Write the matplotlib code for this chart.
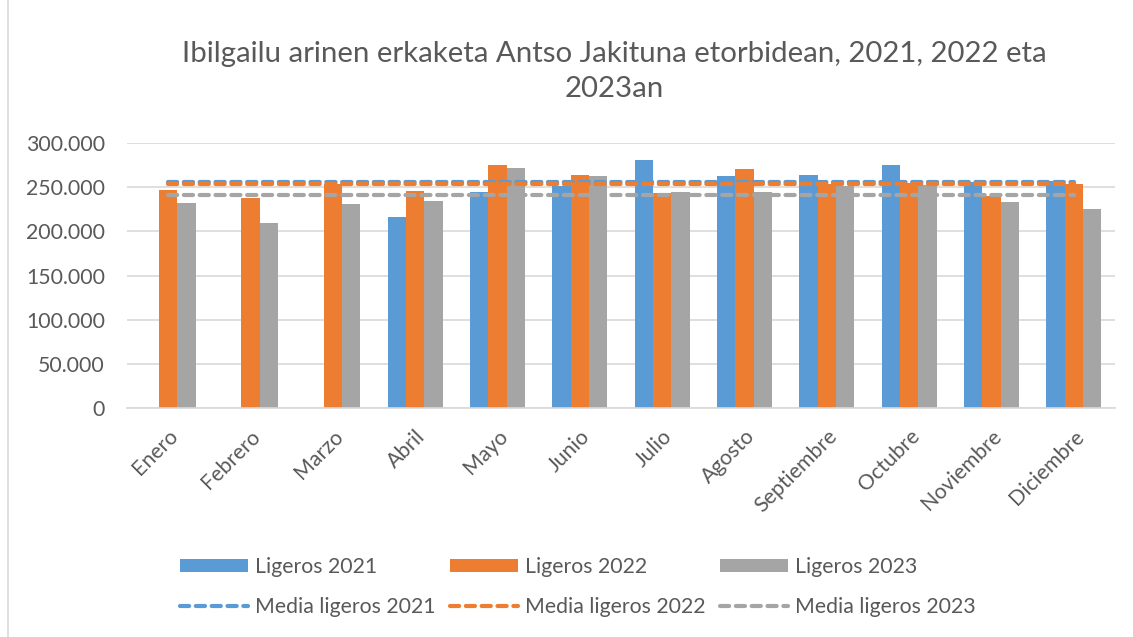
import numpy as np
import matplotlib.pyplot as plt
from matplotlib.patches import Rectangle
from matplotlib.ticker import FuncFormatter

plt.rcParams['font.family'] = ['Lato', 'DejaVu Sans']

# Months and monthly light-vehicle counts
months = ['Enero', 'Febrero', 'Marzo', 'Abril', 'Mayo', 'Junio', 'Julio',
          'Agosto', 'Septiembre', 'Octubre', 'Noviembre', 'Diciembre']
ligeros_2021 = [np.nan, np.nan, np.nan, 215700, 244000, 250800, 280300,
                262600, 263700, 274600, 256100, 257300]
ligeros_2022 = [246300, 237200, 253900, 245200, 275000, 264100, 243300,
                270500, 253100, 254600, 240300, 253900]
ligeros_2023 = [232300, 210000, 230900, 234600, 272000, 262200, 244800,
                244000, 251600, 252400, 232700, 225500]
years = ['2021', '2022', '2023']
colors = ['#5B9BD5', '#ED7D31', '#A5A5A5']
text_col = '#595959'
grid_col = '#D9D9D9'

fig = plt.figure(figsize=(11.33, 6.37), dpi=100)
ax = fig.add_axes([0.1121, 0.3595, 0.872, 0.416])

# Light grey chart-area border (only top and left visible in the crop)
fig.patches.append(Rectangle((8 / 1133, -0.2), 1.2, 1.2 + 1 - 12.5 / 637,
                             transform=fig.transFigure, fill=False,
                             edgecolor=grid_col, linewidth=1.2))

x = np.arange(len(months))
w = 0.223
series = [ligeros_2021, ligeros_2022, ligeros_2023]
bars, lines = [], []
for i, (vals, yr, c) in enumerate(zip(series, years, colors)):
    b = ax.bar(x + (i - 1) * w, vals, width=w, color=c, zorder=2,
               label='Ligeros ' + yr)
    bars.append(b)

# Average lines drawn across the categories
for vals, yr, c in zip(series, years, colors):
    mean = np.nanmean(vals)
    l, = ax.plot(x, [mean] * len(x), color=c, linewidth=3.0,
                 linestyle=(0, (2.2, 1.6)), dash_capstyle='round', zorder=3,
                 label='Media ligeros ' + yr)
    lines.append(l)

ax.set_xlim(-0.5, len(months) - 0.5)
ax.set_ylim(0, 300000)
ax.set_yticks(np.arange(0, 300001, 50000))
ax.yaxis.set_major_formatter(FuncFormatter(lambda v, p: f'{int(v):,}'.replace(',', '.')))
ax.grid(axis='y', color=grid_col, linewidth=1.2, zorder=0)
ax.set_axisbelow(True)
for s in ['top', 'right', 'left']:
    ax.spines[s].set_visible(False)
ax.spines['bottom'].set_color(grid_col)
ax.spines['bottom'].set_linewidth(1.2)

ax.set_xticks(x)
ax.set_xticklabels(months, rotation=45, ha='right', rotation_mode='anchor')
ax.tick_params(axis='both', length=0, colors=text_col, labelsize=15.3)
ax.tick_params(axis='x', pad=13)
ax.tick_params(axis='y', pad=16)

fig.text(0.5424, 0.888, 'Ibilgailu arinen erkaketa Antso Jakituna etorbidean, 2021, 2022 eta\n2023an',
         ha='center', va='center', fontsize=21.2, color=text_col, linespacing=1.42)

handles = [bars[0], lines[0], bars[1], lines[1], bars[2], lines[2]]
labels = [h.get_label() for h in handles]
leg = fig.legend(handles, labels, ncol=3, loc='center', bbox_to_anchor=(0.510, 0.0785),
                 frameon=False, fontsize=15.3, handlelength=3.2, handleheight=0.62,
                 handletextpad=0.33, columnspacing=0.7, labelspacing=0.95)
for t in leg.get_texts():
    t.set_color(text_col)

fig.savefig('out.png', dpi=100)
